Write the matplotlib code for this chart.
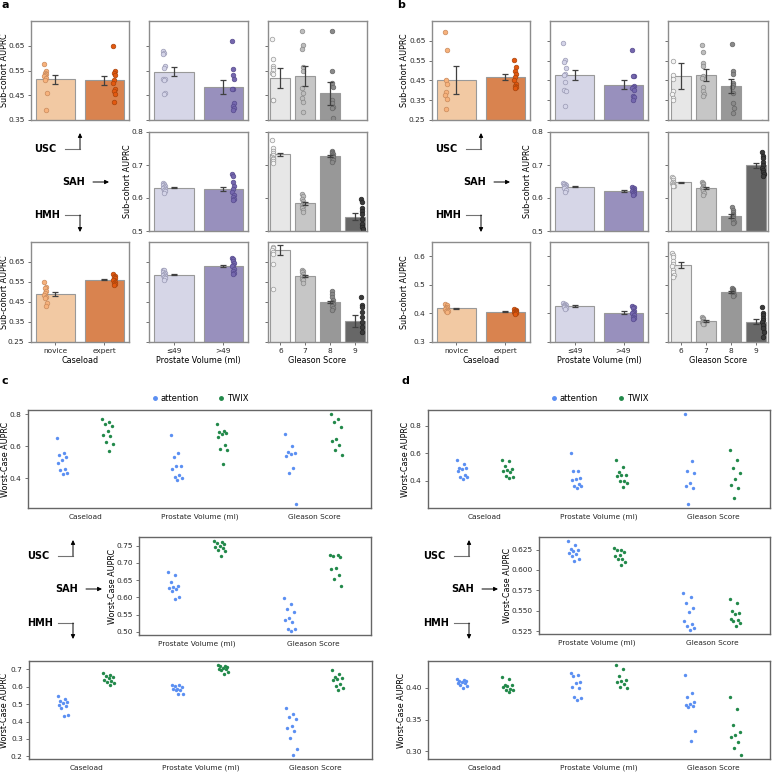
import numpy as np
import matplotlib.pyplot as plt
from matplotlib.lines import Line2D
from matplotlib.ticker import MultipleLocator, FormatStrFormatter

# ---- data -------------------------------------------------------------
case_labels = ['novice', 'expert']
vol_labels = ['≤49', '>49']
gs_labels = ['6', '7', '8', '9']
strip_cats = ['Caseload', 'Prostate Volume (ml)', 'Gleason Score']

# panel a (sub-cohort AUPRC per fold)
a_usc_case = [[0.575, 0.549, 0.541, 0.535, 0.530, 0.527, 0.520, 0.512, 0.460, 0.390],
              [0.649, 0.549, 0.541, 0.530, 0.511, 0.498, 0.475, 0.469, 0.454, 0.424]]
a_usc_case_err = [0.017, 0.018]
a_usc_vol = [[0.630, 0.622, 0.616, 0.567, 0.560, 0.517, 0.515, 0.511, 0.459, 0.457],
             [0.669, 0.555, 0.533, 0.514, 0.474, 0.474, 0.417, 0.406, 0.397, 0.390]]
a_usc_vol_err = [0.019, 0.027]
a_usc_gs = [[0.676, 0.596, 0.567, 0.560, 0.552, 0.541, 0.534, 0.430, 0.430, 0.320],
            [0.711, 0.653, 0.635, 0.565, 0.549, 0.478, 0.458, 0.437, 0.423, 0.381],
            [0.711, 0.549, 0.498, 0.482, 0.430, 0.417, 0.404, 0.400, 0.360, 0.330],
            [0.330, 0.320, 0.310, 0.300, 0.290, 0.280, 0.270, 0.260, 0.250, 0.240]]
a_usc_gs_err = [0.040, 0.040, 0.047, 0.030]

a_sah_vol = [[0.645, 0.642, 0.640, 0.636, 0.632, 0.630, 0.628, 0.625, 0.620, 0.615],
             [0.674, 0.666, 0.650, 0.636, 0.628, 0.618, 0.610, 0.604, 0.598, 0.594]]
a_sah_vol_err = [0.002, 0.007]
a_sah_gs = [[0.777, 0.752, 0.742, 0.735, 0.730, 0.725, 0.722, 0.718, 0.713, 0.707],
            [0.612, 0.605, 0.596, 0.590, 0.584, 0.580, 0.576, 0.570, 0.565, 0.558],
            [0.742, 0.738, 0.735, 0.732, 0.729, 0.726, 0.723, 0.719, 0.714, 0.709],
            [0.597, 0.588, 0.570, 0.560, 0.552, 0.535, 0.522, 0.512, 0.505, 0.490]]
a_sah_gs_err = [0.004, 0.005, 0.003, 0.011]

a_hmh_case = [[0.549, 0.527, 0.519, 0.505, 0.494, 0.485, 0.477, 0.470, 0.443, 0.430],
              [0.588, 0.582, 0.575, 0.568, 0.562, 0.558, 0.552, 0.547, 0.540, 0.535]]
a_hmh_case_err = [0.012, 0.003]
a_hmh_vol = [[0.612, 0.608, 0.600, 0.595, 0.590, 0.585, 0.580, 0.575, 0.568, 0.562],
             [0.668, 0.664, 0.655, 0.645, 0.635, 0.628, 0.615, 0.605, 0.595, 0.590]]
a_hmh_vol_err = [0.003, 0.006]
a_hmh_gs = [[0.820, 0.800, 0.780, 0.726, 0.718, 0.712, 0.700, 0.690, 0.642, 0.516],
            [0.612, 0.605, 0.598, 0.590, 0.582, 0.578, 0.572, 0.566, 0.560, 0.545],
            [0.503, 0.490, 0.475, 0.462, 0.452, 0.445, 0.438, 0.430, 0.420, 0.410],
            [0.474, 0.435, 0.423, 0.400, 0.376, 0.350, 0.326, 0.300, 0.240, 0.220]]
a_hmh_gs_err = [0.025, 0.004, 0.005, 0.029]

# panel b
b_usc_case = [[0.692, 0.603, 0.453, 0.432, 0.390, 0.378, 0.357, 0.307],
              [0.553, 0.517, 0.495, 0.483, 0.467, 0.453, 0.433, 0.423, 0.417, 0.412]]
b_usc_case_err = [0.072, 0.015]
b_usc_vol = [[0.638, 0.553, 0.545, 0.515, 0.480, 0.478, 0.440, 0.403, 0.395, 0.320],
             [0.603, 0.473, 0.470, 0.423, 0.417, 0.412, 0.400, 0.373, 0.365, 0.353]]
b_usc_vol_err = [0.027, 0.023]
b_usc_gs = [[0.800, 0.550, 0.478, 0.457, 0.395, 0.382, 0.362, 0.353],
            [0.628, 0.592, 0.540, 0.525, 0.473, 0.462, 0.417, 0.395, 0.382, 0.370],
            [0.632, 0.495, 0.483, 0.437, 0.428, 0.417, 0.387, 0.337, 0.312, 0.287],
            [0.240, 0.230, 0.220, 0.210, 0.200, 0.190, 0.180, 0.170]]
b_usc_gs_err = [0.064, 0.030, 0.034, 0.020]

b_sah_vol = [[0.646, 0.643, 0.641, 0.639, 0.637, 0.635, 0.632, 0.630, 0.625, 0.619],
             [0.634, 0.630, 0.627, 0.624, 0.622, 0.620, 0.618, 0.615, 0.613, 0.610]]
b_sah_vol_err = [0.002, 0.002]
b_sah_gs = [[0.664, 0.660, 0.655, 0.650, 0.648, 0.645, 0.642, 0.640, 0.637, 0.635],
            [0.650, 0.645, 0.641, 0.637, 0.633, 0.630, 0.626, 0.620, 0.614, 0.608],
            [0.573, 0.565, 0.558, 0.552, 0.547, 0.543, 0.538, 0.533, 0.528, 0.523],
            [0.740, 0.728, 0.720, 0.710, 0.700, 0.692, 0.685, 0.678, 0.672, 0.668]]
b_sah_gs_err = [0.002, 0.003, 0.006, 0.008]

b_hmh_case = [[0.432, 0.428, 0.424, 0.421, 0.418, 0.416, 0.413, 0.410, 0.408, 0.406],
              [0.415, 0.412, 0.410, 0.408, 0.407, 0.405, 0.404, 0.402, 0.400, 0.398]]
b_hmh_case_err = [0.002, 0.002]
b_hmh_vol = [[0.438, 0.434, 0.431, 0.429, 0.427, 0.425, 0.423, 0.421, 0.418, 0.416],
             [0.427, 0.422, 0.418, 0.410, 0.405, 0.400, 0.395, 0.388, 0.383, 0.379]]
b_hmh_vol_err = [0.002, 0.005]
b_hmh_gs = [[0.612, 0.604, 0.598, 0.585, 0.572, 0.565, 0.553, 0.545, 0.535, 0.527],
            [0.388, 0.383, 0.379, 0.375, 0.372, 0.370, 0.368, 0.366, 0.364, 0.362],
            [0.489, 0.486, 0.483, 0.480, 0.477, 0.474, 0.471, 0.468, 0.464, 0.460],
            [0.421, 0.400, 0.394, 0.385, 0.378, 0.371, 0.361, 0.350, 0.335, 0.318]]
b_hmh_gs_err = [0.009, 0.003, 0.004, 0.009]

# panel c (worst-case AUPRC)
c_usc_att = [[0.649, 0.556, 0.545, 0.531, 0.514, 0.497, 0.456, 0.452, 0.435, 0.427],
             [0.670, 0.560, 0.535, 0.477, 0.475, 0.456, 0.421, 0.410, 0.400, 0.390],
             [0.676, 0.601, 0.566, 0.560, 0.551, 0.539, 0.462, 0.431, 0.240]]
c_usc_twix = [[0.769, 0.753, 0.738, 0.726, 0.697, 0.674, 0.663, 0.628, 0.612, 0.572],
              [0.742, 0.697, 0.690, 0.686, 0.676, 0.659, 0.607, 0.580, 0.576, 0.489],
              [0.800, 0.769, 0.753, 0.722, 0.645, 0.634, 0.607, 0.576, 0.545]]
c_sah_att = [[0.673, 0.666, 0.646, 0.634, 0.630, 0.627, 0.624, 0.618, 0.600, 0.594],
             [0.597, 0.580, 0.565, 0.557, 0.540, 0.535, 0.530, 0.509, 0.508, 0.504]]
c_sah_twix = [[0.762, 0.760, 0.757, 0.754, 0.750, 0.746, 0.742, 0.738, 0.733, 0.721],
              [0.724, 0.722, 0.720, 0.718, 0.684, 0.683, 0.666, 0.653, 0.634]]
c_hmh_att = [[0.546, 0.529, 0.519, 0.515, 0.508, 0.495, 0.489, 0.476, 0.436, 0.430],
             [0.613, 0.611, 0.603, 0.599, 0.590, 0.586, 0.584, 0.580, 0.561, 0.557],
             [0.476, 0.441, 0.424, 0.413, 0.375, 0.365, 0.343, 0.305, 0.242, 0.210]]
c_hmh_twix = [[0.681, 0.666, 0.660, 0.655, 0.650, 0.641, 0.635, 0.628, 0.622, 0.609],
              [0.723, 0.720, 0.717, 0.712, 0.710, 0.704, 0.700, 0.694, 0.686, 0.671],
              [0.694, 0.675, 0.656, 0.650, 0.647, 0.640, 0.618, 0.603, 0.594, 0.580]]

# panel d
d_usc_att = [[0.553, 0.520, 0.495, 0.490, 0.485, 0.470, 0.445, 0.430, 0.425, 0.414],
             [0.601, 0.470, 0.468, 0.422, 0.414, 0.408, 0.374, 0.365, 0.362, 0.350],
             [0.881, 0.546, 0.474, 0.453, 0.386, 0.362, 0.350, 0.235]]
d_usc_twix = [[0.553, 0.545, 0.510, 0.486, 0.480, 0.469, 0.462, 0.434, 0.426, 0.422],
              [0.553, 0.500, 0.462, 0.445, 0.440, 0.438, 0.402, 0.398, 0.381, 0.357],
              [0.625, 0.553, 0.493, 0.457, 0.410, 0.369, 0.350, 0.273]]
d_sah_att = [[0.635, 0.631, 0.626, 0.624, 0.623, 0.621, 0.619, 0.617, 0.613, 0.611],
             [0.572, 0.567, 0.559, 0.553, 0.549, 0.538, 0.534, 0.531, 0.529, 0.527]]
d_sah_twix = [[0.627, 0.625, 0.624, 0.622, 0.618, 0.617, 0.614, 0.613, 0.610, 0.606],
              [0.565, 0.560, 0.550, 0.547, 0.546, 0.540, 0.539, 0.537, 0.535, 0.532]]
d_hmh_att = [[0.414, 0.412, 0.411, 0.410, 0.409, 0.408, 0.407, 0.405, 0.402, 0.400],
             [0.423, 0.420, 0.418, 0.409, 0.407, 0.401, 0.400, 0.385, 0.384, 0.381],
             [0.420, 0.392, 0.385, 0.378, 0.374, 0.373, 0.371, 0.370, 0.332, 0.317]]
d_hmh_twix = [[0.417, 0.413, 0.405, 0.404, 0.402, 0.401, 0.398, 0.397, 0.396, 0.394],
              [0.435, 0.430, 0.419, 0.412, 0.410, 0.409, 0.406, 0.401, 0.400],
              [0.385, 0.366, 0.342, 0.330, 0.326, 0.323, 0.314, 0.305, 0.295]]

# ---- colours ----------------------------------------------------------
case_bar = ['#f2c9a3', '#d9834f']
case_pt = ['#f7b27c', '#e3580f']
case_edge = ['#c98a5c', '#a9440c']
vol_bar = ['#d6d6e7', '#9890bd']
vol_pt = ['#d4d4e8', '#7567ae']
vol_edge = ['#9a9ab4', '#574b8e']
gs_bar = ['#e7e7e7', '#c6c6c6', '#989898', '#676767']
gs_pt = ['#f4f4f4', '#bdbdbd', '#8a8a8a', '#3a3a3a']
gs_edge = ['#9a9a9a', '#8a8a8a', '#666666', '#222222']
blue = '#5b8ff2'
green = '#22894a'

W = 772
fig = plt.figure(figsize=(7.72, 7.72), dpi=100)


def rect(l, t, r, b):
    return [l / W, 1 - b / W, (r - l) / W, (b - t) / W]


def spread(n, w):
    # fixed, non-random horizontal jitter pattern
    return ((np.arange(n) * 0.618) % 1 - 0.5) * 2 * w


def style(ax, col):
    for s in ax.spines.values():
        s.set_color(col)
        s.set_linewidth(1.0)
    ax.tick_params(labelsize=5.3, length=2.5, width=0.6, color='0.35',
                   pad=2, labelcolor='0.15')


def put_ylabel(ax, pos, text, xc):
    # xc: wanted centre of the y label, in figure pixels
    ax.set_ylabel(text, fontsize=5.8, va='center')
    ax.yaxis.set_label_coords((xc - pos[0]) / (pos[2] - pos[0]), 0.5)


def bars(pos, groups, errs, bcol, pcol, ecol, ylim, yticks, fmt,
         labels=None, xlabel=None, ylab_x=None):
    ax = fig.add_axes(rect(*pos))
    n = len(groups)
    for i, vals in enumerate(groups):
        vals = np.array(vals)
        m = vals.mean()
        ax.bar(i, m, 0.8, color=bcol[i], edgecolor='0.6', linewidth=0.8, zorder=1)
        dodge = -0.4 + 0.8 * (i + 0.5) / n
        x = i + dodge + spread(len(vals), 0.025)
        ax.scatter(x, vals, s=11, color=pcol[i], edgecolors=ecol[i],
                   linewidths=0.5, zorder=2)
        ax.errorbar(i, m, yerr=errs[i], color='0.25', capsize=2.2,
                    elinewidth=0.9, capthick=0.9, zorder=3)
    ax.set_xlim(-0.5, n - 0.5)
    ax.set_ylim(*ylim)
    ax.set_yticks(yticks)
    if ylab_x is not None:
        ax.set_yticklabels([fmt % v for v in yticks])
        put_ylabel(ax, pos, 'Sub-cohort AUPRC', ylab_x)
    else:
        ax.set_yticklabels([])
    if labels:
        ax.set_xticks(range(n))
        ax.set_xticklabels(labels)
        ax.set_xlabel(xlabel, fontsize=5.8, labelpad=1)
    else:
        ax.set_xticks([])
    style(ax, '0.55')
    return ax


def strips(pos, att, twix, cats, step, fmt, ylab_x, legend=False):
    ax = fig.add_axes(rect(*pos))
    for i in range(len(cats)):
        ax.scatter(i - 0.2 + spread(len(att[i]), 0.05), att[i], s=6,
                   color=blue, linewidths=0, zorder=2)
        ax.scatter(i + 0.2 + spread(len(twix[i]), 0.05), twix[i], s=6,
                   color=green, linewidths=0, zorder=2)
    ax.set_xlim(-0.5, len(cats) - 0.5)
    ax.margins(y=0.05)
    ax.set_xticks(range(len(cats)))
    ax.set_xticklabels(cats)
    ax.yaxis.set_major_locator(MultipleLocator(step))
    ax.yaxis.set_major_formatter(FormatStrFormatter(fmt))
    put_ylabel(ax, pos, 'Worst-Case AUPRC', ylab_x)
    style(ax, '0.4')
    ax.tick_params(axis='x', length=0, pad=4)
    if legend:
        h = [Line2D([], [], marker='o', ls='', color=blue, markersize=2.5, label='attention'),
             Line2D([], [], marker='o', ls='', color=green, markersize=2.5, label='TWIX')]
        ax.legend(handles=h, loc='lower center', bbox_to_anchor=(0.5, 1.07), ncol=2,
                  frameon=False, fontsize=6, handletextpad=0.2, columnspacing=2.2,
                  handlelength=1, borderaxespad=0, borderpad=0)
    return ax


# ---- panel a / b bar charts -------------------------------------------
rows = [(21, 120), (132, 231), (242, 342)]
cols_a = [(30.7, 129), (149.3, 248), (268, 367)]
cols_b = [(431.7, 530), (550, 648), (668, 768)]

panels = [
    (cols_a, (4.5, 127.5),
     a_usc_case, a_usc_case_err, a_usc_vol, a_usc_vol_err, a_usc_gs, a_usc_gs_err,
     a_sah_vol, a_sah_vol_err, a_sah_gs, a_sah_gs_err, a_hmh_case, a_hmh_case_err,
     a_hmh_vol, a_hmh_vol_err, a_hmh_gs, a_hmh_gs_err,
     [((0.35, 0.75), [0.35, 0.45, 0.55, 0.65], '%.2f'),
      ((0.5, 0.8), [0.5, 0.6, 0.7, 0.8], '%.1f'),
      ((0.25, 0.75), [0.25, 0.35, 0.45, 0.55, 0.65], '%.2f')]),
    (cols_b, (405, 528),
     b_usc_case, b_usc_case_err, b_usc_vol, b_usc_vol_err, b_usc_gs, b_usc_gs_err,
     b_sah_vol, b_sah_vol_err, b_sah_gs, b_sah_gs_err, b_hmh_case, b_hmh_case_err,
     b_hmh_vol, b_hmh_vol_err, b_hmh_gs, b_hmh_gs_err,
     [((0.25, 0.75), [0.25, 0.35, 0.45, 0.55, 0.65], '%.2f'),
      ((0.5, 0.8), [0.5, 0.6, 0.7, 0.8], '%.1f'),
      ((0.3, 0.65), [0.3, 0.4, 0.5, 0.6], '%.1f')])]

for (cols, ylx, usc_case, usc_case_e, usc_vol, usc_vol_e, usc_gs, usc_gs_e,
     sah_vol, sah_vol_e, sah_gs, sah_gs_e, hmh_case, hmh_case_e,
     hmh_vol, hmh_vol_e, hmh_gs, hmh_gs_e, lims) in panels:
    (t1, b1), (t2, b2), (t3, b3) = rows
    l1, l2, l3 = lims
    bars((cols[0][0], t1, cols[0][1], b1), usc_case, usc_case_e, case_bar, case_pt, case_edge,
         *l1, ylab_x=ylx[0])
    bars((cols[1][0], t1, cols[1][1], b1), usc_vol, usc_vol_e, vol_bar, vol_pt, vol_edge, *l1)
    bars((cols[2][0], t1, cols[2][1], b1), usc_gs, usc_gs_e, gs_bar, gs_pt, gs_edge, *l1)

    bars((cols[1][0], t2, cols[1][1], b2), sah_vol, sah_vol_e, vol_bar, vol_pt, vol_edge,
         *l2, ylab_x=ylx[1])
    bars((cols[2][0], t2, cols[2][1], b2), sah_gs, sah_gs_e, gs_bar, gs_pt, gs_edge, *l2)

    bars((cols[0][0], t3, cols[0][1], b3), hmh_case, hmh_case_e, case_bar, case_pt, case_edge,
         *l3, labels=case_labels, xlabel='Caseload', ylab_x=ylx[0])
    bars((cols[1][0], t3, cols[1][1], b3), hmh_vol, hmh_vol_e, vol_bar, vol_pt, vol_edge,
         *l3, labels=vol_labels, xlabel='Prostate Volume (ml)')
    bars((cols[2][0], t3, cols[2][1], b3), hmh_gs, hmh_gs_e, gs_bar, gs_pt, gs_edge,
         *l3, labels=gs_labels, xlabel='Gleason Score')

# ---- panel c / d strip charts -----------------------------------------
strips((28, 410, 371, 508), c_usc_att, c_usc_twix, strip_cats, 0.2, '%.1f', 5.5, legend=True)
strips((139, 537, 371, 635), c_sah_att, c_sah_twix, strip_cats[1:], 0.05, '%.2f', 112.5)
strips((29, 661, 372, 759), c_hmh_att, c_hmh_twix, strip_cats, 0.1, '%.1f', 5)
strips((428, 410, 770, 508), d_usc_att, d_usc_twix, strip_cats, 0.2, '%.1f', 406, legend=True)
strips((539, 537, 770, 634), d_sah_att, d_sah_twix, strip_cats[1:], 0.025, '%.3f', 507.5)
strips((428, 661, 770, 759), d_hmh_att, d_hmh_twix, strip_cats, 0.05, '%.2f', 401)

# ---- overlay: panel letters, site labels and arrows -------------------
ov = fig.add_axes([0, 0, 1, 1])
ov.set_xlim(0, W)
ov.set_ylim(W, 0)
ov.axis('off')
ov.patch.set_alpha(0)

for x, y, s in [(1, 5, 'a'), (397, 5, 'b'), (1, 381, 'c'), (401, 381, 'd')]:
    ov.text(x, y, s, fontsize=8, fontweight='bold', va='center', ha='left')


def sites(x, y_usc, y_sah, y_hmh, dx_sah, y_up, y_down):
    kw = dict(fontsize=7, fontweight='bold', va='center', ha='left')
    ap = dict(arrowstyle='-|>', color='black', lw=0.7, mutation_scale=6,
              shrinkA=0, shrinkB=0)
    # USC: right then up
    ov.text(x, y_usc, 'USC', **kw)
    ov.plot([x + 31, x + 46], [y_usc, y_usc], color='0.45', lw=0.8)
    ov.annotate('', xy=(x + 46, y_up), xytext=(x + 46, y_usc), arrowprops=ap)
    # SAH: right
    ov.text(x + dx_sah, y_sah, 'SAH', **kw)
    ov.annotate('', xy=(x + dx_sah + 47, y_sah), xytext=(x + dx_sah + 31, y_sah),
                arrowprops=ap)
    # HMH: right then down
    ov.text(x, y_hmh, 'HMH', **kw)
    ov.plot([x + 31, x + 46], [y_hmh, y_hmh], color='0.45', lw=0.8)
    ov.annotate('', xy=(x + 46, y_down), xytext=(x + 46, y_hmh), arrowprops=ap)


sites(34, 149, 182, 215, 28, 133, 232)
sites(435, 149, 182, 215, 28, 133, 232)
sites(27, 556, 589, 623, 28, 540, 639)
sites(423, 556, 589, 623, 28, 540, 639)

fig.savefig('out.png', dpi=100)
